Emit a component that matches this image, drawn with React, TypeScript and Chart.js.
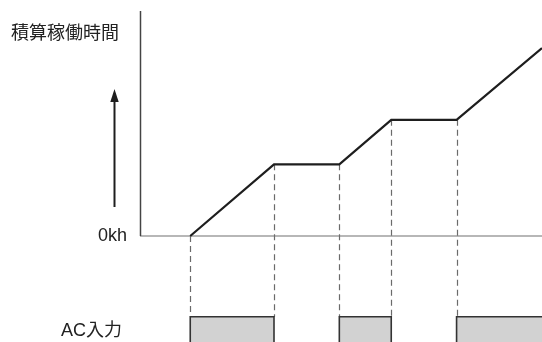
import React, { useEffect, useRef } from "react";
import { Chart, registerables } from "chart.js";

Chart.register(...registerables);

// Time axis (arbitrary time units) and accumulated operating hours
const eventTimes = [1.5, 4, 5.95, 7.5, 9.45, 12];
const accumulatedHours = [0, 2.5, 2.5, 4.05, 4.05, 6.55];
// AC input signal (0 = off, 1 = on)
const acTimes = [0, 1.5, 4, 5.95, 7.5, 9.45, 12];
const acStates = [0, 1, 0, 1, 0, 1, 1];
// Labels
const yAxisTitle = "積算稼働時間";
const zeroLabel = "0kh";
const acLabel = "AC入力";

const FONT = '18px "Liberation Sans", "Noto Sans CJK JP", sans-serif';

const overlay = {
  id: "overlay",
  beforeDatasetsDraw(chart: any) {
    const { ctx, chartArea } = chart;
    const x = chart.scales.x;
    const y = chart.scales.y;
    const y2 = chart.scales.y2;
    const x0 = x.getPixelForValue(0);
    const y0 = y.getPixelForValue(0);
    ctx.save();

    // drop lines (dashed)
    ctx.strokeStyle = "#6a6a6a";
    ctx.lineWidth = 1.2;
    ctx.setLineDash([6, 4]);
    for (let i = 0; i < eventTimes.length - 1; i++) {
      const px = Math.round(x.getPixelForValue(eventTimes[i])) + 0.5;
      ctx.beginPath();
      ctx.moveTo(px, y.getPixelForValue(accumulatedHours[i]));
      ctx.lineTo(px, y2.getPixelForValue(1));
      ctx.stroke();
    }
    ctx.setLineDash([]);

    // horizontal baseline
    ctx.strokeStyle = "#707070";
    ctx.lineWidth = 1.2;
    ctx.beginPath();
    ctx.moveTo(x0, y0);
    ctx.lineTo(chartArea.right, y0);
    ctx.stroke();

    // vertical axis
    ctx.strokeStyle = "#444";
    ctx.lineWidth = 1.5;
    ctx.beginPath();
    ctx.moveTo(x0 + 0.5, chartArea.top);
    ctx.lineTo(x0 + 0.5, y0);
    ctx.stroke();

    // arrow
    const ax = 114.5;
    ctx.strokeStyle = "#1e1e1e";
    ctx.fillStyle = "#1e1e1e";
    ctx.lineWidth = 2;
    ctx.beginPath();
    ctx.moveTo(ax, 207);
    ctx.lineTo(ax, 100);
    ctx.stroke();
    ctx.beginPath();
    ctx.moveTo(ax, 89);
    ctx.lineTo(ax - 4.2, 102);
    ctx.lineTo(ax + 4.2, 102);
    ctx.closePath();
    ctx.fill();

    // texts
    ctx.fillStyle = "#222";
    ctx.font = FONT;
    ctx.textBaseline = "middle";
    ctx.textAlign = "left";
    ctx.fillText(yAxisTitle, 11, 34);
    ctx.textAlign = "right";
    ctx.textBaseline = "alphabetic";
    ctx.fillText(zeroLabel, 127, y0 + 5);
    ctx.textAlign = "left";
    ctx.fillText(acLabel, 61, y2.getPixelForValue(1) + 19.5);

    ctx.restore();
  },
};

export default function App() {
  const ref = useRef<HTMLCanvasElement | null>(null);

  useEffect(() => {
    if (!ref.current) return;
    const chart = new Chart(ref.current, {
      type: "line",
      data: {
        datasets: [
          {
            label: "accumulated",
            data: eventTimes.map((t, i) => ({ x: t, y: accumulatedHours[i] })),
            borderColor: "#1e1e1e",
            borderWidth: 2.2,
            pointRadius: 0,
            tension: 0,
            fill: false,
            yAxisID: "y",
          },
          {
            label: "ac",
            data: acTimes.map((t, i) => ({ x: t, y: acStates[i] })),
            stepped: "before",
            borderColor: "#333",
            borderWidth: 1.6,
            backgroundColor: "#d2d2d2",
            fill: "origin",
            pointRadius: 0,
            yAxisID: "y2",
          },
        ],
      },
      options: {
        responsive: false,
        animation: false,
        events: [],
        layout: { padding: { left: 140, top: 11, right: 0, bottom: 0 } },
        plugins: { legend: { display: false }, tooltip: { enabled: false } },
        scales: {
          x: { type: "linear", min: 0, max: 12, display: false },
          y: { type: "linear", min: -3.696, max: 7.845, display: false },
          y2: { type: "linear", min: 0.5, max: 7.04, display: false },
        },
      },
      plugins: [overlay],
    });
    return () => chart.destroy();
  }, []);

  return (
    <div style={{ position: "absolute", left: 0, top: 0, width: 542, height: 342, background: "#fff" }}>
      <canvas ref={ref} width={542} height={342} style={{ width: 542, height: 342, display: "block" }} />
    </div>
  );
}
